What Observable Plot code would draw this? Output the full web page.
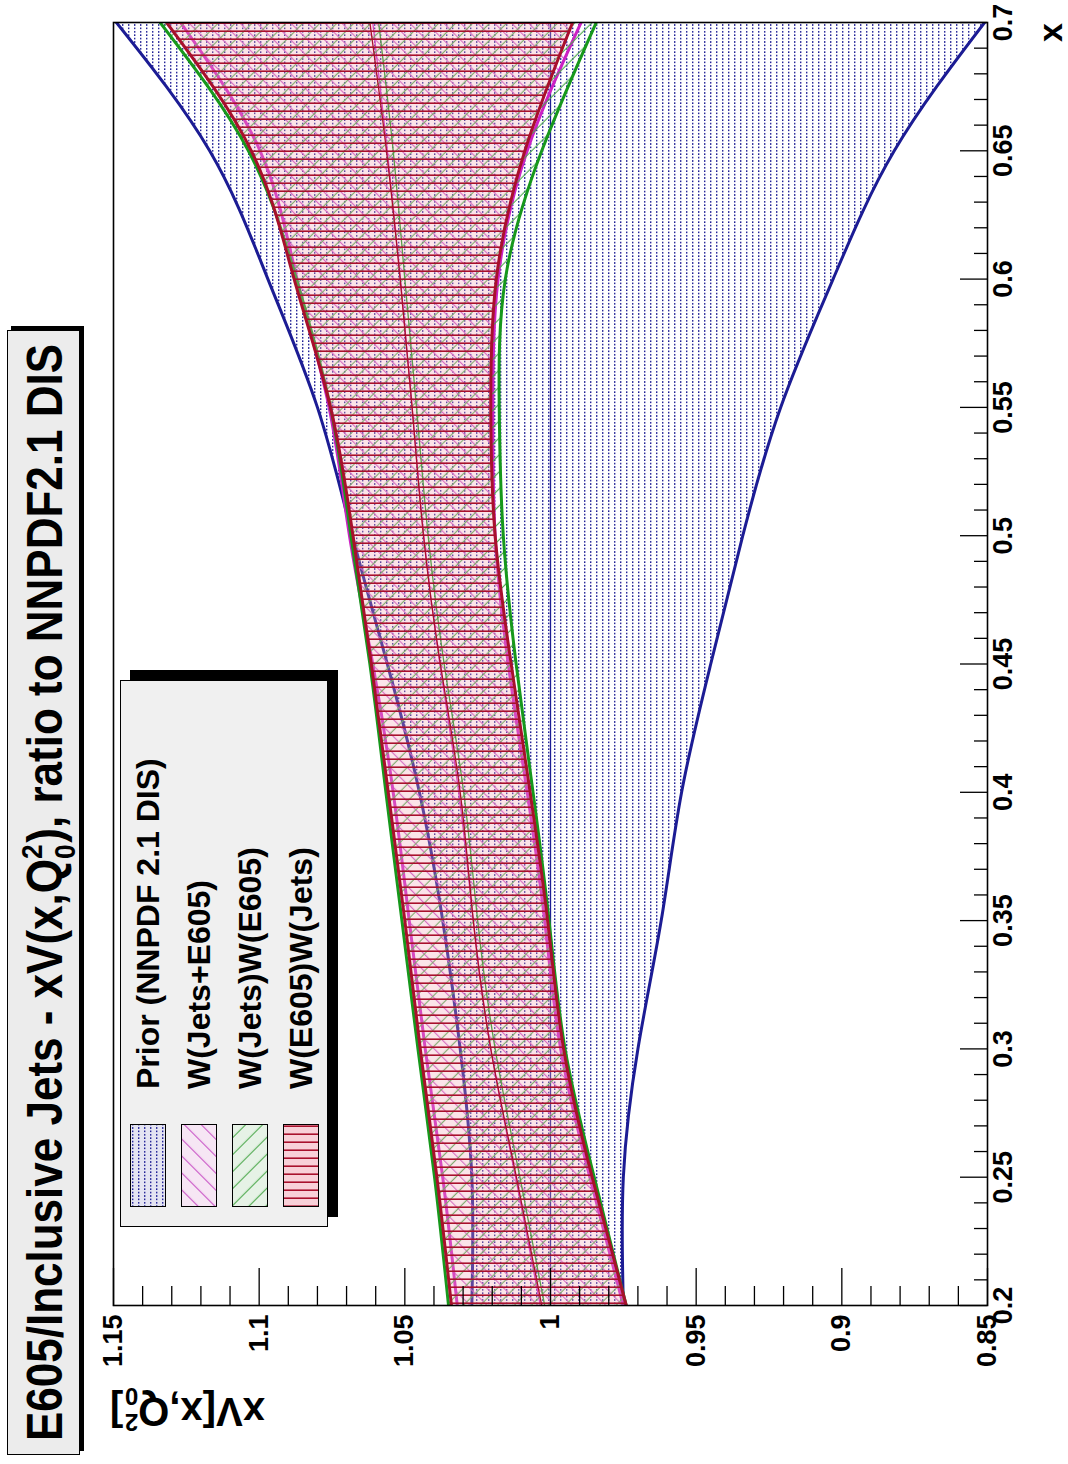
<!DOCTYPE html>
<html>
<head>
<meta charset="utf-8">
<script src="https://cdn.jsdelivr.net/npm/d3@7"></script>
<script src="https://cdn.jsdelivr.net/npm/@observablehq/plot@0.6"></script>
<style>
  body { margin: 0; background: #fff; font-family: "Liberation Sans", Arial, sans-serif; }
  #page { position: relative; width: 1068px; height: 1464px; overflow: hidden; background: #fff; }
  /* the canvas is laid out landscape and turned a quarter turn counter-clockwise */
  #canvas { position: absolute; left: 0; top: 0; width: 1464px; height: 1068px;
            transform-origin: 0 0; transform: translate(0px, 1464px) rotate(-90deg); }
  #canvas > svg { position: absolute; left: 0; top: 0; }
  .box { position: absolute; box-sizing: border-box; border: 1.5px solid #000; }
  #title { left: 9px; top: 7px; width: 1125px; height: 73px; background: #ececec;
           box-shadow: 4px 4px 0 #000; display: flex; align-items: center; justify-content: center; }
  #title span.t { font-weight: bold; font-size: 44px; line-height: 44px; white-space: nowrap;
                  display: inline-block; transform: translateY(-2px) scaleY(1.12); }
  /* stacked superscript / subscript */
  .ss { position: relative; display: inline-block; font-size: 0.6em; width: 0.62em; height: 1.667em; }
  .ss .sup, .ss .sub { position: absolute; left: 0; line-height: 1; }
  .ss .sup { top: 0.15em; }
  .ss .sub { top: 1.24em; }
  #legend { left: 237px; top: 120px; width: 547px; height: 208px; background: #f0f0f0;
            border-width: 1px; box-shadow: 10px 10px 0 #000; }
  .entry { position: absolute; left: 0; height: 36px; display: flex; align-items: center; }
  .entry svg { margin-left: 19px; }
  .entry span { margin-left: 35px; font-weight: bold; font-size: 32px; white-space: nowrap; }
  #ytitle { position: absolute; left: 26px; top: 410px; width: 300px; text-align: right;
            transform: rotate(-90deg); transform-origin: 0 0; font-weight: bold; font-size: 40px;
            white-space: nowrap; line-height: 48px; }
  #xtitle { position: absolute; left: 1341px; top: 1030px; width: 100px; text-align: right;
            font-weight: bold; font-size: 34px; line-height: 40px; }
</style>
</head>
<body>
<div id="page"><div id="canvas"></div></div>
<script>
// x grid of the valence-PDF ratio curves
const xs = [0.2, 0.25, 0.3, 0.35, 0.4, 0.45, 0.5, 0.55, 0.6, 0.65, 0.7];

// Prior (NNPDF 2.1 DIS): upper edge, central value, lower edge
const priorHi  = [1.027, 1.027, 1.031, 1.037, 1.045, 1.056, 1.068, 1.080, 1.097, 1.117, 1.149];
const priorMid = [1, 1, 1, 1, 1, 1, 1, 1, 1, 1, 1];
const priorLo  = [0.975, 0.975, 0.970, 0.962, 0.955, 0.945, 0.934, 0.921, 0.903, 0.882, 0.851];

// W(Jets+E605)
const jeHi  = [1.032, 1.037, 1.043, 1.0485, 1.054, 1.061, 1.069, 1.076, 1.087, 1.0997, 1.127];
const jeMid = [1.0035, 1.012, 1.0205, 1.0265, 1.0315, 1.038, 1.0435, 1.0475, 1.0515, 1.056, 1.061];
const jeLo  = [0.975, 0.9865, 0.9965, 1.002, 1.008, 1.0145, 1.019, 1.0198, 1.018, 1.008, 0.9895];

// W(Jets)W(E605)
const jxeHi  = [1.035, 1.0398, 1.0455, 1.051, 1.0565, 1.062, 1.0685, 1.0755, 1.0872, 1.1037, 1.134];
const jxeMid = [1.002, 1.0105, 1.019, 1.025, 1.0298, 1.0365, 1.042, 1.046, 1.050, 1.054, 1.059];
const jxeLo  = [0.974, 0.985, 0.995, 1.0005, 1.006, 1.0118, 1.0162, 1.0176, 1.0155, 1.003, 0.9843];

// W(E605)W(Jets)
const exjHi  = [1.034, 1.039, 1.0447, 1.050, 1.0557, 1.0615, 1.0678, 1.0755, 1.088, 1.1027, 1.1318];
const exjMid = [1.003, 1.0117, 1.0205, 1.0265, 1.031, 1.0378, 1.0436, 1.0475, 1.0516, 1.0563, 1.062];
const exjLo  = [0.974, 0.9857, 0.9955, 1.001, 1.007, 1.0135, 1.019, 1.0205, 1.0186, 1.0088, 0.9924];

// axis ticks and their labels
const xTicks = [0.2, 0.25, 0.3, 0.35, 0.4, 0.45, 0.5, 0.55, 0.6, 0.65, 0.7];
const xTickLabels = ["0.2", "0.25", "0.3", "0.35", "0.4", "0.45", "0.5", "0.55", "0.6", "0.65", "0.7"];
const yTicks = [0.85, 0.9, 0.95, 1.0, 1.05, 1.1, 1.15];
const yTickLabels = ["0.85", "0.9", "0.95", "1", "1.05", "1.1", "1.15"];

const legendLabels = ["Prior (NNPDF 2.1 DIS)", "W(Jets+E605)", "W(Jets)W(E605)", "W(E605)W(Jets)"];

const rows = xs.map((x, i) => ({
  x,
  priorHi: priorHi[i], priorMid: priorMid[i], priorLo: priorLo[i],
  jeHi: jeHi[i], jeMid: jeMid[i], jeLo: jeLo[i],
  jxeHi: jxeHi[i], jxeMid: jxeMid[i], jxeLo: jxeLo[i],
  exjHi: exjHi[i], exjMid: exjMid[i], exjLo: exjLo[i]
}));

const xMinor = d3.range(0.2, 0.7001, 0.01).filter(v => !xTicks.some(t => Math.abs(t - v) < 1e-6));
const yMinor = d3.range(0.85, 1.1501, 0.01).filter(v => !yTicks.some(t => Math.abs(t - v) < 1e-6));

const BLUE = "#1c1c94", MAG = "#cc22c4", GRN = "#17981c", RED = "#a8102c";
const curve = "natural";
const band = (lo, hi, fill) => Plot.areaY(rows, {x: "x", y1: lo, y2: hi, fill, curve, clip: true});
const line = (key, stroke, w) => Plot.lineY(rows, {x: "x", y: key, stroke, strokeWidth: w, curve, clip: true});

const font = {fontSize: 27, fontWeight: "bold", fill: "#000"};

const svg = Plot.plot({
  width: 1464, height: 1068,
  marginTop: 113, marginBottom: 81, marginLeft: 158, marginRight: 23,
  style: {fontFamily: "'Liberation Sans', Arial, sans-serif", background: "transparent", overflow: "visible"},
  x: {domain: [0.2, 0.7]},
  y: {domain: [0.85, 1.15]},
  marks: [
    band("priorLo", "priorHi", "url(#pPrior)"),
    line("priorHi", BLUE, 3), line("priorLo", BLUE, 3), line("priorMid", BLUE, 1.3),
    band("jeLo", "jeHi", "url(#pJE)"),
    line("jeHi", MAG, 3), line("jeLo", MAG, 3), line("jeMid", MAG, 1.3),
    band("jxeLo", "jxeHi", "url(#pJxE)"),
    line("jxeHi", GRN, 3), line("jxeLo", GRN, 3), line("jxeMid", GRN, 1.3),
    band("exjLo", "exjHi", "url(#pExJ)"),
    line("exjHi", RED, 3), line("exjLo", RED, 3), line("exjMid", RED, 1.3),
    // inward ticks
    Plot.axisX({ticks: xTicks, tickSize: -27, fill: "none", label: null, stroke: "#000", strokeWidth: 1.3}),
    Plot.axisX({ticks: xMinor, tickSize: -13, fill: "none", label: null, stroke: "#000", strokeWidth: 1.3}),
    Plot.axisY({ticks: yTicks, tickSize: -38, fill: "none", label: null, stroke: "#000", strokeWidth: 1.3}),
    Plot.axisY({ticks: yMinor, tickSize: -20, fill: "none", label: null, stroke: "#000", strokeWidth: 1.3}),
    // tick labels
    Plot.axisX({ticks: xTicks, tickSize: 0, tickPadding: 5, label: null, ...font,
                tickFormat: d => xTickLabels[xTicks.indexOf(d)]}),
    Plot.axisY({ticks: yTicks, tickSize: 0, tickPadding: 9, label: null, ...font,
                tickFormat: d => yTickLabels[yTicks.indexOf(d)]}),
    Plot.frame({stroke: "#000", strokeWidth: 1.6})
  ]
});

// fill patterns for the uncertainty bands
const ns = "http://www.w3.org/2000/svg";
const defs = document.createElementNS(ns, "defs");
defs.innerHTML = `
  <pattern id="pPrior" patternUnits="userSpaceOnUse" width="3.4" height="6">
    <rect x="0" y="2" width="1.6" height="1.4" fill="${BLUE}"/>
  </pattern>
  <pattern id="pJE" patternUnits="userSpaceOnUse" width="12" height="12" patternTransform="rotate(45)">
    <line x1="0.6" y1="0" x2="0.6" y2="12" stroke="#c850c4" stroke-width="1.1"/>
  </pattern>
  <pattern id="pJxE" patternUnits="userSpaceOnUse" width="12" height="12" patternTransform="rotate(-45)">
    <line x1="0.6" y1="0" x2="0.6" y2="12" stroke="#4aa84a" stroke-width="1.1"/>
  </pattern>
  <pattern id="pExJ" patternUnits="userSpaceOnUse" width="8" height="8">
    <rect width="8" height="8" fill="#f2a8b8" fill-opacity="0.3"/>
    <line x1="0.8" y1="0" x2="0.8" y2="8" stroke="${RED}" stroke-width="1.6"/>
  </pattern>`;
svg.insertBefore(defs, svg.firstChild);

const canvas = document.getElementById("canvas");
canvas.appendChild(svg);

const stack = (hi, lo) => `<span class="ss"><span class="sup">${hi}</span><span class="sub">${lo}</span></span>`;

// title box
const title = document.createElement("div");
title.id = "title"; title.className = "box";
title.innerHTML = `<span class="t">E605/Inclusive Jets - xV(x,Q${stack("2", "0")}), ratio to NNPDF2.1 DIS</span>`;
canvas.appendChild(title);

// legend box
const swatchBg = ["#e4e4f2", "#f6e6f4", "#e6f2e6", "#fbe2e6"];
const swatchFill = ["url(#pPrior)", "url(#pJE)", "url(#pJxE)", "url(#pExJ)"];
const legend = document.createElement("div");
legend.id = "legend"; legend.className = "box";
legendLabels.forEach((lab, i) => {
  const e = document.createElement("div");
  e.className = "entry";
  e.style.top = (9 + i * 51) + "px";
  e.innerHTML = `<svg width="83" height="36">
      <rect x="0.5" y="0.5" width="82" height="35" fill="${swatchBg[i]}"/>
      <rect x="0.5" y="0.5" width="82" height="35" fill="${swatchFill[i]}"/>
      <rect x="0.5" y="0.5" width="82" height="35" fill="none" stroke="#000" stroke-width="1"/>
    </svg><span>${lab}</span>`;
  legend.appendChild(e);
});
canvas.appendChild(legend);

// axis titles
const yt = document.createElement("div");
yt.id = "ytitle";
yt.innerHTML = `xV[x,Q${stack("2", "0")}]`;
canvas.appendChild(yt);

const xt = document.createElement("div");
xt.id = "xtitle";
xt.textContent = "x";
canvas.appendChild(xt);
</script>
</body>
</html>
